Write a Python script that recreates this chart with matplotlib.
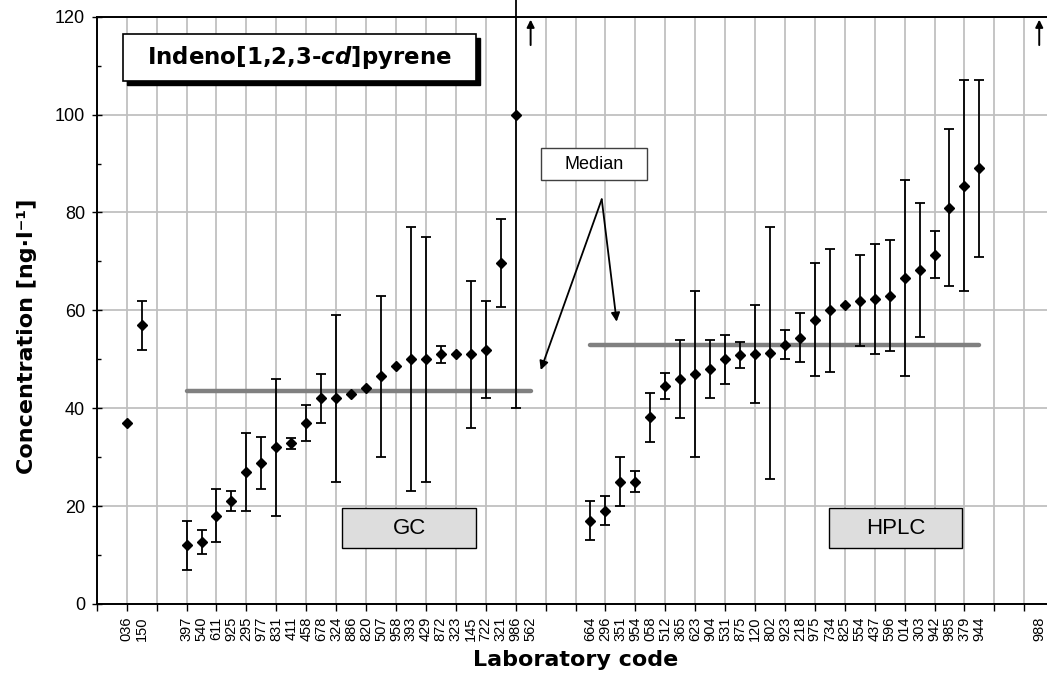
import numpy as np
import matplotlib
matplotlib.use("Agg")
import matplotlib.pyplot as plt
from matplotlib.patches import Rectangle

plt.rcParams["font.family"] = ["Liberation Sans", "DejaVu Sans"]
plt.rcParams["mathtext.fontset"] = "custom"
plt.rcParams["mathtext.it"] = "DejaVu Sans:italic:bold"
plt.rcParams["mathtext.rm"] = "DejaVu Sans:bold"

# results outside the two method groups (left of GC)
other_codes = ["036", "150"]
other_conc = [37.0, 57.0]
other_unc = [0.0, 5.0]

# GC results, sorted; NaN = off scale (arrow)
gc_codes = ["397", "540", "611", "925", "295", "977", "831", "411", "458",
            "678", "324", "886", "820", "507", "958", "393", "429", "872",
            "323", "145", "722", "321", "986", "562"]
gc_conc = [12.0, 12.7, 18.0, 21.0, 27.0, 28.8, 32.0, 32.8, 37.0,
           42.0, 42.0, 43.0, 44.2, 46.5, 48.7, 50.0, 50.0, 51.0,
           51.0, 51.0, 52.0, 69.7, 100.0, np.nan]
gc_unc = [5.0, 2.5, 5.4, 2.0, 8.0, 5.4, 14.0, 1.2, 3.7,
          5.0, 17.0, 0.0, 0.0, 16.5, 0.0, 27.0, 25.0, 1.8,
          0.0, 15.0, 10.0, 9.0, 60.0, 0.0]
gc_median = 43.5

# HPLC results, sorted
hplc_codes = ["664", "296", "351", "954", "058", "512", "365", "623", "904",
              "531", "875", "120", "802", "923", "218", "975", "734", "825",
              "554", "437", "596", "014", "303", "942", "985", "379", "944"]
hplc_conc = [17.0, 19.1, 25.0, 25.0, 38.2, 44.6, 46.0, 47.0, 48.0,
             50.0, 50.9, 51.0, 51.3, 53.0, 54.4, 58.1, 60.0, 61.1,
             62.0, 62.3, 63.0, 66.6, 68.3, 71.4, 81.0, 85.5, 89.0]
hplc_unc = [4.0, 3.0, 5.0, 2.2, 5.0, 2.7, 8.0, 17.0, 6.0,
            5.0, 2.7, 10.0, 25.7, 3.0, 5.0, 11.6, 12.6, 0.0,
            9.3, 11.3, 11.3, 20.0, 13.7, 4.8, 16.0, 21.5, 18.0]
hplc_median = 53.0

# off-scale result right of HPLC
extra_codes = ["988"]
extra_conc = [np.nan]
extra_unc = [0.0]

# first slot of each group on the category axis (gaps between groups)
groups = [
    (2, other_codes, other_conc, other_unc),
    (6, gc_codes, gc_conc, gc_unc),
    (33, hplc_codes, hplc_conc, hplc_unc),
    (63, extra_codes, extra_conc, extra_unc),
]

fig = plt.figure(figsize=(10.47, 6.77), dpi=100)
ax = fig.add_axes([96.8 / 1047, 73 / 677, 957.4 / 1047, 587.3 / 677])

tick_pos, tick_lab = [], []
for start, codes, conc, unc in groups:
    pos = start + np.arange(len(codes))
    conc = np.asarray(conc)
    unc = np.asarray(unc)
    tick_pos += list(pos)
    tick_lab += codes
    has_err = (unc > 0) & ~np.isnan(conc)
    ax.errorbar(pos[has_err], conc[has_err], yerr=unc[has_err], fmt="none",
                ecolor="black", elinewidth=1.3, capsize=3.8, capthick=1.3,
                clip_on=False, zorder=3)
    ax.plot(pos, conc, "D", color="black", ms=5.3, zorder=4, clip_on=False)
    for p in pos[np.isnan(conc)]:
        ax.annotate("", xy=(p, 119.4), xytext=(p, 114.2),
                    arrowprops=dict(arrowstyle="-|>", color="black", lw=1.4,
                                    mutation_scale=11, shrinkA=0, shrinkB=0))

# median lines
for start, codes, med in [(6, gc_codes, gc_median), (33, hplc_codes, hplc_median)]:
    ax.plot([start, start + len(codes) - 1], [med, med], color="#808080",
            lw=3.2, solid_capstyle="round", zorder=2)

ax.set_xlim(0, 64)
ax.set_ylim(0, 120)
# labels on every reported code, tick marks + grid every second slot
ax.xaxis.remove_overlapping_locs = False
ax.set_xticks(tick_pos)
ax.set_xticklabels(tick_lab, rotation=90, fontsize=10.5)
ax.set_xticks(np.arange(0, 65, 2), minor=True)
ax.tick_params(axis="x", which="major", length=0, pad=9)
ax.tick_params(axis="x", which="minor", direction="out", length=5, width=1)
ax.set_yticks(np.arange(0, 121, 20))
ax.set_yticks(np.arange(0, 121, 10), minor=True)
ax.tick_params(axis="y", which="major", direction="inout", length=7, width=1,
               labelsize=13, pad=5)
ax.tick_params(axis="y", which="minor", direction="in", length=3, width=1)

ax.grid(True, axis="x", which="minor", color="#c0c0c0", lw=1.3, zorder=0)
ax.grid(True, axis="y", which="major", color="#c0c0c0", lw=1.3, zorder=0)
ax.set_axisbelow(True)
for s in ["left", "bottom", "top", "right"]:
    ax.spines[s].set_linewidth(1.4)

ax.set_xlabel("Laboratory code", fontfamily="DejaVu Sans", fontweight="bold",
              fontsize=16)
ax.xaxis.set_label_coords(0.5, -0.078)
ax.set_ylabel("Concentration [ng·l⁻¹]", fontfamily="DejaVu Sans",
              fontweight="bold", fontsize=16)
ax.yaxis.set_label_coords(-0.062, 0.455)

# title box with shadow
ax.add_patch(Rectangle((0.0316, 0.8838), 0.3686, 0.0800, transform=ax.transAxes,
                       facecolor="black", edgecolor="black", zorder=5, clip_on=False))
ax.add_patch(Rectangle((0.0274, 0.8905), 0.3686, 0.0800, transform=ax.transAxes,
                       facecolor="white", edgecolor="black", lw=1.2, zorder=6,
                       clip_on=False))
ax.text(0.2117, 0.9306, r"Indeno[1,2,3-$\mathit{cd}$]pyrene", transform=ax.transAxes,
        ha="center", va="center", fontfamily="DejaVu Sans", fontweight="bold",
        fontsize=16.5, zorder=7)

# median label and arrows
ax.add_patch(Rectangle((0.4636, 0.7219), 0.1107, 0.0545, transform=ax.transAxes,
                       facecolor="white", edgecolor="#404040", lw=1, zorder=6))
ax.text(0.519, 0.749, "Median", transform=ax.transAxes, ha="center",
        va="center", fontsize=13, zorder=7)
for end in [(0.4637, 0.3984), (0.5430, 0.4807)]:
    ax.annotate("", xy=end, xytext=(0.5274, 0.6891), xycoords="axes fraction",
                textcoords="axes fraction",
                arrowprops=dict(arrowstyle="-|>", color="black", lw=1.3,
                                mutation_scale=13, shrinkA=0, shrinkB=0),
                zorder=6)

# method labels
for x0, lab in [(0.2564, "GC"), (0.7645, "HPLC")]:
    ax.add_patch(Rectangle((x0, 0.0948), 0.1395, 0.0682, transform=ax.transAxes,
                           facecolor="#dddddd", edgecolor="black", lw=1, zorder=6))
    ax.text(x0 + 0.0698, 0.1289, lab, transform=ax.transAxes, ha="center",
            va="center", fontsize=16, zorder=7)

fig.savefig("out.png", dpi=100)
